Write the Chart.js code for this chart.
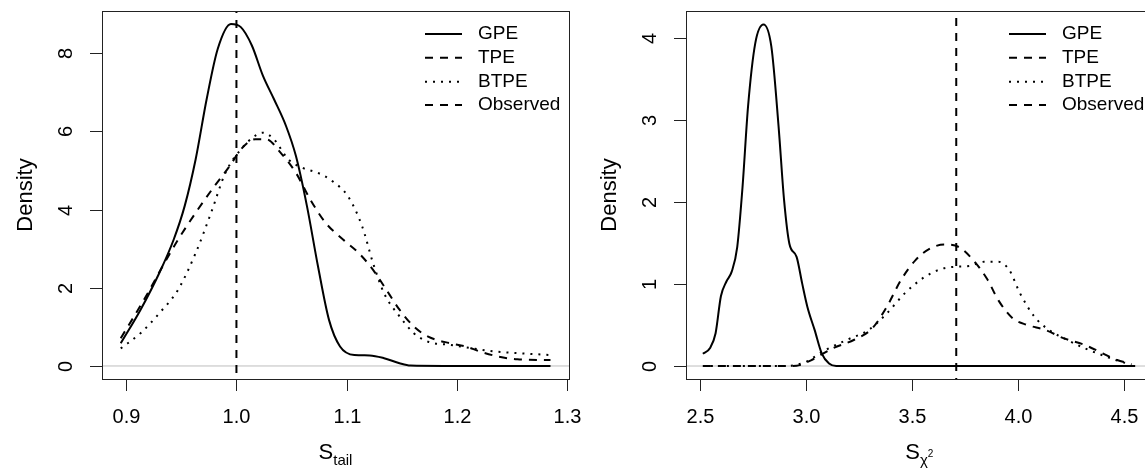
<!DOCTYPE html>
<html>
<head>
<meta charset="utf-8">
<script src="https://cdn.jsdelivr.net/npm/chart.js@4.4.1/dist/chart.umd.min.js"></script>
<style>
  html, body { margin: 0; padding: 0; background: #fff; overflow: hidden; }
  .panel { position: absolute; top: 0; width: 584px; height: 469px; }
</style>
</head>
<body>
<div class="panel" style="left:0"><canvas id="tailChart" width="584" height="469"></canvas></div>
<div class="panel" style="left:584px"><canvas id="chiChart" width="584" height="469"></canvas></div>
<script>
const seriesNames = ['GPE', 'TPE', 'BTPE', 'Observed'];

// Left panel: S_tail
const tailGpeX = [0.895, 0.913, 0.930, 0.943, 0.953, 0.963, 0.973, 0.983, 0.995, 1.004, 1.014, 1.024, 1.034, 1.045, 1.054, 1.064, 1.074, 1.084, 1.094, 1.107, 1.121, 1.134, 1.148, 1.158, 1.188, 1.285];
const tailGpeY = [0.58, 1.44, 2.38, 3.23, 4.09, 5.29, 6.83, 8.11, 8.75, 8.67, 8.20, 7.43, 6.83, 6.14, 5.37, 4.09, 2.55, 1.18, 0.50, 0.28, 0.27, 0.20, 0.07, 0.01, 0, 0];
const tailTpeX = [0.895, 0.916, 0.933, 0.947, 0.963, 0.980, 0.994, 1.004, 1.017, 1.027, 1.040, 1.054, 1.067, 1.081, 1.097, 1.111, 1.124, 1.134, 1.148, 1.161, 1.174, 1.194, 1.208, 1.221, 1.238, 1.255, 1.285];
const tailTpeY = [0.71, 1.69, 2.55, 3.23, 3.92, 4.60, 5.12, 5.54, 5.80, 5.80, 5.46, 4.94, 4.26, 3.66, 3.23, 2.89, 2.46, 2.04, 1.44, 1.01, 0.75, 0.58, 0.50, 0.37, 0.24, 0.17, 0.15];
const tailBtpeX = [0.895, 0.913, 0.930, 0.947, 0.963, 0.977, 0.990, 1.004, 1.017, 1.024, 1.034, 1.047, 1.060, 1.074, 1.087, 1.101, 1.114, 1.124, 1.134, 1.148, 1.161, 1.174, 1.194, 1.214, 1.235, 1.255, 1.285];
const tailBtpeY = [0.45, 0.84, 1.35, 1.95, 2.89, 3.92, 4.94, 5.54, 5.89, 5.97, 5.80, 5.29, 5.07, 4.94, 4.73, 4.35, 3.58, 2.63, 1.86, 1.27, 0.84, 0.62, 0.54, 0.45, 0.37, 0.33, 0.28];
const tailObserved = 1.0;
const tailXTicks = [0.9, 1.0, 1.1, 1.2, 1.3];
const tailYTicks = [0, 2, 4, 6, 8];

// Right panel: S_chi2
const chiGpeX = [2.515, 2.549, 2.575, 2.600, 2.626, 2.651, 2.677, 2.702, 2.728, 2.762, 2.801, 2.838, 2.872, 2.898, 2.923, 2.957, 2.983, 3.008, 3.042, 3.076, 3.110, 3.144, 4.554];
const chiGpeY = [0.15, 0.22, 0.40, 0.85, 1.03, 1.15, 1.45, 2.18, 3.16, 3.93, 4.16, 3.89, 2.92, 2.02, 1.49, 1.33, 1.01, 0.72, 0.44, 0.15, 0.03, 0, 0];
const chiTpeX = [2.515, 2.889, 2.957, 3.025, 3.127, 3.229, 3.314, 3.382, 3.450, 3.518, 3.586, 3.654, 3.722, 3.790, 3.858, 3.909, 3.977, 4.045, 4.130, 4.215, 4.317, 4.401, 4.469, 4.529];
const chiTpeY = [0, 0, 0.004, 0.07, 0.215, 0.32, 0.46, 0.72, 1.05, 1.29, 1.43, 1.48, 1.45, 1.29, 1.05, 0.80, 0.58, 0.50, 0.44, 0.34, 0.256, 0.154, 0.073, 0.032];
const chiBtpeX = [2.515, 2.889, 2.991, 3.093, 3.195, 3.297, 3.382, 3.467, 3.552, 3.637, 3.705, 3.773, 3.841, 3.909, 3.960, 4.011, 4.079, 4.147, 4.232, 4.317, 4.418, 4.486, 4.537];
const chiBtpeY = [0, 0, 0.04, 0.195, 0.32, 0.44, 0.64, 0.885, 1.07, 1.18, 1.21, 1.22, 1.27, 1.27, 1.17, 0.885, 0.60, 0.44, 0.32, 0.215, 0.114, 0.053, 0.02];
const chiObserved = 3.71;
const chiXTicks = [2.5, 3.0, 3.5, 4.0, 4.5];
const chiYTicks = [0, 1, 2, 3, 4];

const FONT = '"Liberation Sans", Arial, Helvetica, sans-serif';
const dashStyles = [[], [8, 7], [2, 6], [8, 7]];

function pts(xs, ys) {
    return xs.map(function (x, i) { return { x: x, y: ys[i] }; });
}

// R-like axes, box, titles and legend drawn from the chart's own scales
function rStylePlugin(opts) {
    return {
        id: 'rStyle',
        afterDraw: function (chart) {
            const ctx = chart.ctx;
            const a = chart.chartArea;
            const xs = chart.scales.x, ys = chart.scales.y;
            ctx.save();
            ctx.strokeStyle = '#222';
            ctx.lineWidth = 1;
            ctx.strokeRect(Math.round(a.left) + 0.5, Math.round(a.top) + 0.5,
                Math.round(a.right - a.left), Math.round(a.bottom - a.top));

            ctx.fillStyle = '#000';
            ctx.font = '20px ' + FONT;
            ctx.textAlign = 'center';
            ctx.textBaseline = 'middle';
            opts.xTicks.forEach(function (v) {
                const px = Math.round(xs.getPixelForValue(v)) + 0.5;
                ctx.beginPath();
                ctx.moveTo(px, a.bottom);
                ctx.lineTo(px, a.bottom + 12);
                ctx.stroke();
                ctx.fillText(v.toFixed(1), px, a.bottom + 38);
            });
            opts.yTicks.forEach(function (v) {
                const py = Math.round(ys.getPixelForValue(v)) + 0.5;
                ctx.beginPath();
                ctx.moveTo(a.left - 12, py);
                ctx.lineTo(a.left, py);
                ctx.stroke();
                ctx.save();
                ctx.translate(a.left - 36, py);
                ctx.rotate(-Math.PI / 2);
                ctx.fillText(String(v), 0, 0);
                ctx.restore();
            });

            // y title
            ctx.save();
            ctx.font = '22px ' + FONT;
            ctx.translate(a.left - 76, (a.top + a.bottom) / 2);
            ctx.rotate(-Math.PI / 2);
            ctx.fillText('Density', 0, 0);
            ctx.restore();

            // x title: S with subscript
            const cx = (a.left + a.right) / 2, ty = a.bottom + 80;
            ctx.textAlign = 'left';
            ctx.textBaseline = 'alphabetic';
            ctx.font = '22px ' + FONT;
            const wS = ctx.measureText('S').width;
            ctx.font = '15px ' + FONT;
            const wSub = ctx.measureText(opts.sub).width;
            const wSup = opts.sup ? ctx.measureText(opts.sup).width * 0.7 : 0;
            const x0 = cx - (wS + wSub + wSup) / 2;
            ctx.font = '22px ' + FONT;
            ctx.fillText('S', x0, ty);
            ctx.font = '15px ' + FONT;
            ctx.fillText(opts.sub, x0 + wS, ty + 6);
            if (opts.sup) {
                ctx.font = '10px ' + FONT;
                ctx.fillText(opts.sup, x0 + wS + wSub, ty - 2);
            }

            // legend (top right, no box)
            ctx.font = '19px ' + FONT;
            ctx.textBaseline = 'middle';
            const rows = [23, 46.7, 70.7, 94];
            chart.data.datasets.forEach(function (ds, i) {
                if (i >= seriesNames.length) return;
                const ly = a.top + rows[i];
                ctx.save();
                ctx.strokeStyle = '#000';
                ctx.lineWidth = 2;
                ctx.setLineDash(ds.borderDash || []);
                ctx.beginPath();
                ctx.moveTo(a.left + 323, ly);
                ctx.lineTo(a.left + 360, ly);
                ctx.stroke();
                ctx.restore();
                ctx.fillText(ds.label, a.left + 376, ly);
            });
            ctx.restore();
        }
    };
}

function makePanel(id, series, observed, xMin, xMax, yMin, yMax, opts) {
    const datasets = series.map(function (s, i) {
        return {
            label: seriesNames[i],
            data: s,
            borderColor: '#000',
            borderWidth: 2,
            borderDash: dashStyles[i],
            pointRadius: 0,
            cubicInterpolationMode: 'monotone',
            fill: false,
            order: i + 1
        };
    });
    datasets.push({
        label: seriesNames[3],
        data: [{ x: observed, y: yMin - 1 }, { x: observed, y: yMax + 1 }],
        borderColor: '#000',
        borderWidth: 2,
        borderDash: dashStyles[3],
        pointRadius: 0,
        fill: false,
        order: 0
    });
    datasets.push({
        label: 'zero',
        data: [{ x: xMin - 1, y: 0 }, { x: xMax + 1, y: 0 }],
        borderColor: '#bdbdbd',
        borderWidth: 1,
        pointRadius: 0,
        fill: false,
        order: 10
    });

    new Chart(document.getElementById(id).getContext('2d'), {
        type: 'line',
        data: { datasets: datasets },
        options: {
            responsive: false,
            animation: false,
            devicePixelRatio: 1,
            layout: { padding: { left: 102, right: 15, top: 11, bottom: 90 } },
            plugins: { legend: { display: false }, tooltip: { enabled: false } },
            scales: {
                x: { type: 'linear', min: xMin, max: xMax, display: false },
                y: { type: 'linear', min: yMin, max: yMax, display: false }
            }
        },
        plugins: [rStylePlugin(opts)]
    });
}

makePanel('tailChart',
    [pts(tailGpeX, tailGpeY), pts(tailTpeX, tailTpeY), pts(tailBtpeX, tailBtpeY)],
    tailObserved, 0.878, 1.3018, -0.333, 9.082,
    { xTicks: tailXTicks, yTicks: tailYTicks, sub: 'tail', sup: null });

makePanel('chiChart',
    [pts(chiGpeX, chiGpeY), pts(chiTpeX, chiTpeY), pts(chiBtpeX, chiBtpeY)],
    chiObserved, 2.4354, 4.638, -0.158, 4.325,
    { xTicks: chiXTicks, yTicks: chiYTicks, sub: 'χ', sup: '2' });
</script>
</body>
</html>
